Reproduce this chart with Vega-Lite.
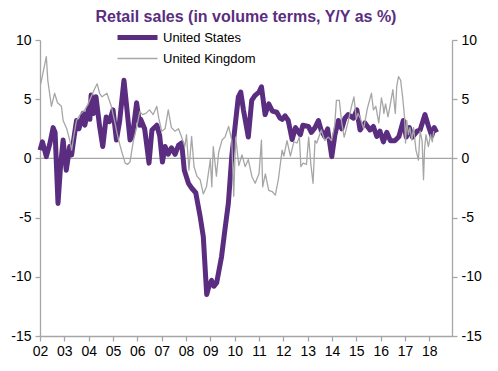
{
"$schema": "https://vega.github.io/schema/vega-lite/v6.json",
"autosize": {"type": "none"},
"padding": {"left": 40, "top": 40, "right": 46, "bottom": 35},
"width": 412,
"height": 296,
"config": {
  "font": "Liberation Sans",
  "view": {"stroke": null},
  "axis": {"grid": false, "domainColor": "#a6a6a6", "tickColor": "#a6a6a6", "labelFontSize": 14, "labelColor": "#000000", "labelFont": "Liberation Sans", "tickSize": 5, "domainWidth": 1.3, "tickWidth": 1.3}
},
"title": {"text": "Retail sales (in volume terms, Y/Y as %)", "color": "#5a2d80", "fontSize": 16, "fontWeight": "bold", "font": "Liberation Sans", "anchor": "middle", "frame": "group", "offset": 5},
"layer": [
  {
    "data": {"values": [{}]},
    "mark": {"type": "rule", "color": "#a6a6a6", "strokeWidth": 1.3},
    "encoding": {
      "y": {"datum": 0, "type": "quantitative", "scale": {"domain": [-15, 10], "nice": false, "zero": false},
            "axis": {"orient": "right", "values": [-15, -10, -5, 0, 5, 10], "labelExpr": "toString(datum.value)", "title": null, "labelPadding": 4}}
    }
  },
  {
    "data": {"values": [
{"t":2002.0,"v":0.7,"s":"United States"},
{"t":2002.1,"v":1.4,"s":"United States"},
{"t":2002.26,"v":0.15,"s":"United States"},
{"t":2002.4,"v":1.2,"s":"United States"},
{"t":2002.54,"v":2.6,"s":"United States"},
{"t":2002.62,"v":2.2,"s":"United States"},
{"t":2002.74,"v":-3.8,"s":"United States"},
{"t":2002.85,"v":-0.5,"s":"United States"},
{"t":2002.95,"v":1.55,"s":"United States"},
{"t":2003.08,"v":-1.0,"s":"United States"},
{"t":2003.22,"v":1.0,"s":"United States"},
{"t":2003.3,"v":0.3,"s":"United States"},
{"t":2003.4,"v":1.8,"s":"United States"},
{"t":2003.5,"v":3.2,"s":"United States"},
{"t":2003.6,"v":2.5,"s":"United States"},
{"t":2003.77,"v":3.8,"s":"United States"},
{"t":2003.84,"v":2.8,"s":"United States"},
{"t":2004.0,"v":4.25,"s":"United States"},
{"t":2004.05,"v":3.3,"s":"United States"},
{"t":2004.1,"v":5.35,"s":"United States"},
{"t":2004.2,"v":3.8,"s":"United States"},
{"t":2004.3,"v":5.2,"s":"United States"},
{"t":2004.45,"v":2.7,"s":"United States"},
{"t":2004.58,"v":1.0,"s":"United States"},
{"t":2004.72,"v":3.5,"s":"United States"},
{"t":2004.85,"v":3.1,"s":"United States"},
{"t":2005.0,"v":4.1,"s":"United States"},
{"t":2005.14,"v":1.55,"s":"United States"},
{"t":2005.27,"v":3.1,"s":"United States"},
{"t":2005.45,"v":6.6,"s":"United States"},
{"t":2005.56,"v":4.4,"s":"United States"},
{"t":2005.7,"v":1.55,"s":"United States"},
{"t":2005.8,"v":1.9,"s":"United States"},
{"t":2005.97,"v":4.7,"s":"United States"},
{"t":2006.1,"v":2.8,"s":"United States"},
{"t":2006.14,"v":3.3,"s":"United States"},
{"t":2006.3,"v":2.5,"s":"United States"},
{"t":2006.48,"v":-0.4,"s":"United States"},
{"t":2006.6,"v":2.4,"s":"United States"},
{"t":2006.8,"v":2.8,"s":"United States"},
{"t":2006.92,"v":1.9,"s":"United States"},
{"t":2007.03,"v":-0.3,"s":"United States"},
{"t":2007.14,"v":1.0,"s":"United States"},
{"t":2007.27,"v":0.35,"s":"United States"},
{"t":2007.4,"v":0.9,"s":"United States"},
{"t":2007.55,"v":0.35,"s":"United States"},
{"t":2007.69,"v":1.1,"s":"United States"},
{"t":2007.82,"v":1.3,"s":"United States"},
{"t":2007.93,"v":-1.0,"s":"United States"},
{"t":2008.1,"v":-2.1,"s":"United States"},
{"t":2008.23,"v":-2.5,"s":"United States"},
{"t":2008.4,"v":-2.9,"s":"United States"},
{"t":2008.58,"v":-4.9,"s":"United States"},
{"t":2008.71,"v":-6.6,"s":"United States"},
{"t":2008.85,"v":-11.5,"s":"United States"},
{"t":2008.93,"v":-10.9,"s":"United States"},
{"t":2009.05,"v":-10.3,"s":"United States"},
{"t":2009.15,"v":-10.8,"s":"United States"},
{"t":2009.26,"v":-10.5,"s":"United States"},
{"t":2009.46,"v":-8.3,"s":"United States"},
{"t":2009.6,"v":-6.0,"s":"United States"},
{"t":2009.74,"v":-3.8,"s":"United States"},
{"t":2009.88,"v":0.15,"s":"United States"},
{"t":2010.0,"v":2.4,"s":"United States"},
{"t":2010.15,"v":5.2,"s":"United States"},
{"t":2010.25,"v":5.6,"s":"United States"},
{"t":2010.36,"v":4.1,"s":"United States"},
{"t":2010.56,"v":1.8,"s":"United States"},
{"t":2010.7,"v":4.9,"s":"United States"},
{"t":2010.83,"v":5.3,"s":"United States"},
{"t":2011.0,"v":5.6,"s":"United States"},
{"t":2011.1,"v":6.05,"s":"United States"},
{"t":2011.25,"v":3.7,"s":"United States"},
{"t":2011.4,"v":4.6,"s":"United States"},
{"t":2011.55,"v":4.0,"s":"United States"},
{"t":2011.73,"v":3.9,"s":"United States"},
{"t":2011.86,"v":3.4,"s":"United States"},
{"t":2011.95,"v":3.3,"s":"United States"},
{"t":2012.07,"v":3.6,"s":"United States"},
{"t":2012.2,"v":3.2,"s":"United States"},
{"t":2012.36,"v":1.6,"s":"United States"},
{"t":2012.5,"v":2.6,"s":"United States"},
{"t":2012.7,"v":2.0,"s":"United States"},
{"t":2012.8,"v":2.8,"s":"United States"},
{"t":2013.03,"v":2.7,"s":"United States"},
{"t":2013.15,"v":2.2,"s":"United States"},
{"t":2013.3,"v":2.6,"s":"United States"},
{"t":2013.44,"v":3.2,"s":"United States"},
{"t":2013.55,"v":2.4,"s":"United States"},
{"t":2013.7,"v":1.85,"s":"United States"},
{"t":2013.82,"v":2.5,"s":"United States"},
{"t":2013.99,"v":0.15,"s":"United States"},
{"t":2014.12,"v":2.0,"s":"United States"},
{"t":2014.26,"v":3.2,"s":"United States"},
{"t":2014.4,"v":2.5,"s":"United States"},
{"t":2014.53,"v":3.4,"s":"United States"},
{"t":2014.66,"v":3.7,"s":"United States"},
{"t":2014.88,"v":3.4,"s":"United States"},
{"t":2015.02,"v":4.1,"s":"United States"},
{"t":2015.15,"v":2.4,"s":"United States"},
{"t":2015.35,"v":3.0,"s":"United States"},
{"t":2015.56,"v":2.4,"s":"United States"},
{"t":2015.7,"v":2.7,"s":"United States"},
{"t":2015.84,"v":1.85,"s":"United States"},
{"t":2015.97,"v":2.3,"s":"United States"},
{"t":2016.11,"v":1.4,"s":"United States"},
{"t":2016.25,"v":2.2,"s":"United States"},
{"t":2016.4,"v":1.5,"s":"United States"},
{"t":2016.59,"v":1.5,"s":"United States"},
{"t":2016.75,"v":1.85,"s":"United States"},
{"t":2016.93,"v":3.2,"s":"United States"},
{"t":2017.05,"v":1.8,"s":"United States"},
{"t":2017.18,"v":2.6,"s":"United States"},
{"t":2017.3,"v":1.8,"s":"United States"},
{"t":2017.5,"v":2.3,"s":"United States"},
{"t":2017.62,"v":2.4,"s":"United States"},
{"t":2017.82,"v":3.7,"s":"United States"},
{"t":2017.95,"v":2.8,"s":"United States"},
{"t":2018.1,"v":1.9,"s":"United States"},
{"t":2018.2,"v":2.6,"s":"United States"},
{"t":2018.3,"v":2.2,"s":"United States"},
{"t":2002.03,"v":6.3,"s":"United Kingdom"},
{"t":2002.12,"v":7.2,"s":"United Kingdom"},
{"t":2002.26,"v":8.6,"s":"United Kingdom"},
{"t":2002.32,"v":6.6,"s":"United Kingdom"},
{"t":2002.47,"v":4.4,"s":"United Kingdom"},
{"t":2002.6,"v":5.5,"s":"United Kingdom"},
{"t":2002.72,"v":4.7,"s":"United Kingdom"},
{"t":2002.88,"v":4.4,"s":"United Kingdom"},
{"t":2002.95,"v":3.2,"s":"United Kingdom"},
{"t":2003.1,"v":2.5,"s":"United Kingdom"},
{"t":2003.22,"v":1.55,"s":"United Kingdom"},
{"t":2003.3,"v":0.7,"s":"United Kingdom"},
{"t":2003.38,"v":1.8,"s":"United Kingdom"},
{"t":2003.5,"v":3.2,"s":"United Kingdom"},
{"t":2003.65,"v":3.7,"s":"United Kingdom"},
{"t":2003.84,"v":4.1,"s":"United Kingdom"},
{"t":2003.95,"v":4.5,"s":"United Kingdom"},
{"t":2004.08,"v":5.1,"s":"United Kingdom"},
{"t":2004.25,"v":5.9,"s":"United Kingdom"},
{"t":2004.35,"v":6.3,"s":"United Kingdom"},
{"t":2004.45,"v":5.5,"s":"United Kingdom"},
{"t":2004.55,"v":5.2,"s":"United Kingdom"},
{"t":2004.75,"v":5.5,"s":"United Kingdom"},
{"t":2004.93,"v":4.4,"s":"United Kingdom"},
{"t":2005.07,"v":3.1,"s":"United Kingdom"},
{"t":2005.2,"v":1.8,"s":"United Kingdom"},
{"t":2005.34,"v":0.7,"s":"United Kingdom"},
{"t":2005.5,"v":-0.4,"s":"United Kingdom"},
{"t":2005.6,"v":-0.5,"s":"United Kingdom"},
{"t":2005.7,"v":-0.3,"s":"United Kingdom"},
{"t":2005.84,"v":1.55,"s":"United Kingdom"},
{"t":2005.97,"v":2.6,"s":"United Kingdom"},
{"t":2006.1,"v":3.95,"s":"United Kingdom"},
{"t":2006.22,"v":3.7,"s":"United Kingdom"},
{"t":2006.35,"v":3.8,"s":"United Kingdom"},
{"t":2006.5,"v":4.1,"s":"United Kingdom"},
{"t":2006.65,"v":3.7,"s":"United Kingdom"},
{"t":2006.8,"v":4.4,"s":"United Kingdom"},
{"t":2006.88,"v":3.4,"s":"United Kingdom"},
{"t":2007.0,"v":2.3,"s":"United Kingdom"},
{"t":2007.14,"v":2.5,"s":"United Kingdom"},
{"t":2007.27,"v":4.1,"s":"United Kingdom"},
{"t":2007.4,"v":2.6,"s":"United Kingdom"},
{"t":2007.55,"v":2.3,"s":"United Kingdom"},
{"t":2007.69,"v":2.5,"s":"United Kingdom"},
{"t":2007.82,"v":1.8,"s":"United Kingdom"},
{"t":2007.95,"v":1.0,"s":"United Kingdom"},
{"t":2008.02,"v":2.0,"s":"United Kingdom"},
{"t":2008.12,"v":-1.0,"s":"United Kingdom"},
{"t":2008.23,"v":1.85,"s":"United Kingdom"},
{"t":2008.33,"v":-0.7,"s":"United Kingdom"},
{"t":2008.45,"v":-1.5,"s":"United Kingdom"},
{"t":2008.58,"v":-1.8,"s":"United Kingdom"},
{"t":2008.71,"v":-3.0,"s":"United Kingdom"},
{"t":2008.84,"v":-2.4,"s":"United Kingdom"},
{"t":2009.0,"v":-0.1,"s":"United Kingdom"},
{"t":2009.06,"v":-2.4,"s":"United Kingdom"},
{"t":2009.12,"v":1.0,"s":"United Kingdom"},
{"t":2009.25,"v":-1.5,"s":"United Kingdom"},
{"t":2009.34,"v":0.5,"s":"United Kingdom"},
{"t":2009.48,"v":1.55,"s":"United Kingdom"},
{"t":2009.6,"v":1.8,"s":"United Kingdom"},
{"t":2009.75,"v":2.7,"s":"United Kingdom"},
{"t":2009.88,"v":1.55,"s":"United Kingdom"},
{"t":2009.96,"v":-3.2,"s":"United Kingdom"},
{"t":2010.04,"v":1.8,"s":"United Kingdom"},
{"t":2010.17,"v":-0.6,"s":"United Kingdom"},
{"t":2010.3,"v":0.3,"s":"United Kingdom"},
{"t":2010.43,"v":-0.7,"s":"United Kingdom"},
{"t":2010.56,"v":-0.1,"s":"United Kingdom"},
{"t":2010.71,"v":-1.55,"s":"United Kingdom"},
{"t":2010.84,"v":-2.1,"s":"United Kingdom"},
{"t":2011.0,"v":-1.3,"s":"United Kingdom"},
{"t":2011.1,"v":1.55,"s":"United Kingdom"},
{"t":2011.15,"v":-2.4,"s":"United Kingdom"},
{"t":2011.26,"v":-1.3,"s":"United Kingdom"},
{"t":2011.4,"v":-2.7,"s":"United Kingdom"},
{"t":2011.54,"v":-2.8,"s":"United Kingdom"},
{"t":2011.67,"v":-3.1,"s":"United Kingdom"},
{"t":2011.8,"v":-1.7,"s":"United Kingdom"},
{"t":2011.95,"v":0.7,"s":"United Kingdom"},
{"t":2012.02,"v":0.2,"s":"United Kingdom"},
{"t":2012.15,"v":1.5,"s":"United Kingdom"},
{"t":2012.29,"v":0.2,"s":"United Kingdom"},
{"t":2012.43,"v":1.4,"s":"United Kingdom"},
{"t":2012.56,"v":1.3,"s":"United Kingdom"},
{"t":2012.66,"v":1.8,"s":"United Kingdom"},
{"t":2012.72,"v":-0.7,"s":"United Kingdom"},
{"t":2012.81,"v":-0.4,"s":"United Kingdom"},
{"t":2012.95,"v":-0.5,"s":"United Kingdom"},
{"t":2013.04,"v":1.8,"s":"United Kingdom"},
{"t":2013.13,"v":-0.5,"s":"United Kingdom"},
{"t":2013.22,"v":-2.1,"s":"United Kingdom"},
{"t":2013.3,"v":1.5,"s":"United Kingdom"},
{"t":2013.37,"v":1.3,"s":"United Kingdom"},
{"t":2013.56,"v":2.4,"s":"United Kingdom"},
{"t":2013.7,"v":1.5,"s":"United Kingdom"},
{"t":2013.85,"v":1.8,"s":"United Kingdom"},
{"t":2013.98,"v":1.5,"s":"United Kingdom"},
{"t":2014.11,"v":2.8,"s":"United Kingdom"},
{"t":2014.18,"v":4.9,"s":"United Kingdom"},
{"t":2014.3,"v":4.9,"s":"United Kingdom"},
{"t":2014.4,"v":3.0,"s":"United Kingdom"},
{"t":2014.5,"v":1.8,"s":"United Kingdom"},
{"t":2014.65,"v":3.0,"s":"United Kingdom"},
{"t":2014.8,"v":4.4,"s":"United Kingdom"},
{"t":2014.9,"v":5.2,"s":"United Kingdom"},
{"t":2015.0,"v":3.3,"s":"United Kingdom"},
{"t":2015.07,"v":3.8,"s":"United Kingdom"},
{"t":2015.18,"v":3.3,"s":"United Kingdom"},
{"t":2015.3,"v":2.5,"s":"United Kingdom"},
{"t":2015.45,"v":4.2,"s":"United Kingdom"},
{"t":2015.62,"v":5.5,"s":"United Kingdom"},
{"t":2015.7,"v":4.1,"s":"United Kingdom"},
{"t":2015.8,"v":4.4,"s":"United Kingdom"},
{"t":2015.92,"v":3.0,"s":"United Kingdom"},
{"t":2016.03,"v":5.1,"s":"United Kingdom"},
{"t":2016.1,"v":4.4,"s":"United Kingdom"},
{"t":2016.13,"v":3.8,"s":"United Kingdom"},
{"t":2016.2,"v":4.6,"s":"United Kingdom"},
{"t":2016.3,"v":3.5,"s":"United Kingdom"},
{"t":2016.38,"v":4.4,"s":"United Kingdom"},
{"t":2016.5,"v":5.8,"s":"United Kingdom"},
{"t":2016.6,"v":3.8,"s":"United Kingdom"},
{"t":2016.66,"v":6.1,"s":"United Kingdom"},
{"t":2016.73,"v":6.9,"s":"United Kingdom"},
{"t":2016.82,"v":6.6,"s":"United Kingdom"},
{"t":2016.9,"v":5.2,"s":"United Kingdom"},
{"t":2016.98,"v":3.5,"s":"United Kingdom"},
{"t":2017.02,"v":1.3,"s":"United Kingdom"},
{"t":2017.07,"v":3.2,"s":"United Kingdom"},
{"t":2017.14,"v":2.0,"s":"United Kingdom"},
{"t":2017.2,"v":2.6,"s":"United Kingdom"},
{"t":2017.28,"v":1.55,"s":"United Kingdom"},
{"t":2017.35,"v":2.6,"s":"United Kingdom"},
{"t":2017.45,"v":0.7,"s":"United Kingdom"},
{"t":2017.55,"v":-0.15,"s":"United Kingdom"},
{"t":2017.62,"v":2.3,"s":"United Kingdom"},
{"t":2017.7,"v":1.5,"s":"United Kingdom"},
{"t":2017.76,"v":-1.8,"s":"United Kingdom"},
{"t":2017.8,"v":0.7,"s":"United Kingdom"},
{"t":2017.86,"v":2.0,"s":"United Kingdom"},
{"t":2017.96,"v":1.0,"s":"United Kingdom"},
{"t":2018.05,"v":2.0,"s":"United Kingdom"},
{"t":2018.12,"v":1.4,"s":"United Kingdom"},
{"t":2018.18,"v":2.3,"s":"United Kingdom"}
    ]},
    "mark": {"type": "line", "strokeJoin": "round"},
    "encoding": {
      "x": {"field": "t", "type": "quantitative", "scale": {"domain": [2002, 2018.93], "nice": false, "zero": false},
            "axis": {"values": [2002,2003,2004,2005,2006,2007,2008,2009,2010,2011,2012,2013,2014,2015,2016,2017,2018], "format": "d", "labelExpr": "substring(datum.label, 2, 4)", "title": null, "labelPadding": 3, "labelFlush": false, "labelOverlap": false}},
      "y": {"field": "v", "type": "quantitative", "scale": {"domain": [-15, 10], "nice": false, "zero": false},
            "axis": {"orient": "left", "values": [-15, -10, -5, 0, 5, 10], "labelExpr": "toString(datum.value)", "title": null, "labelPadding": 4}},
      "color": {"field": "s", "type": "nominal", "scale": {"domain": ["United States", "United Kingdom"], "range": ["#5a2d80", "#a6a6a6"]},
                "legend": {"orient": "none", "legendX": 90, "legendY": -10, "title": null, "symbolType": "M-4,0H4", "symbolSize": 100, "labelFontSize": 13, "labelFont": "Liberation Sans", "labelColor": "#000000", "rowPadding": 4, "labelOffset": 18}},
      "strokeWidth": {"field": "s", "type": "nominal", "scale": {"domain": ["United States", "United Kingdom"], "range": [5, 1.3]},
                "legend": {"orient": "none", "legendX": 90, "legendY": -10, "title": null, "symbolType": "M-4,0H4", "symbolSize": 100, "labelFontSize": 13, "labelFont": "Liberation Sans", "labelColor": "#000000", "rowPadding": 4, "labelOffset": 18}}
    }
  }
],
"resolve": {"axis": {"y": "independent"}}
}
